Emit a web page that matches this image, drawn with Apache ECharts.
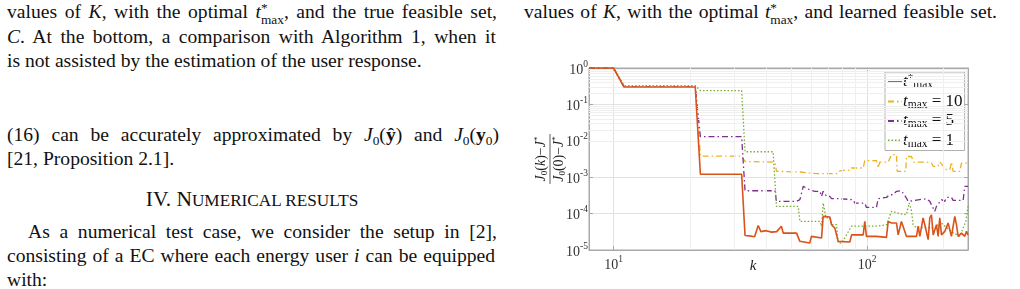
<!DOCTYPE html>
<html>
<head>
<meta charset="utf-8">
<script src="https://cdn.jsdelivr.net/npm/echarts@6/dist/echarts.min.js"></script>
<style>
html,body{margin:0;padding:0;background:#fff;}
body{width:1020px;height:289px;overflow:hidden;position:relative;font-family:"Liberation Serif","Times New Roman",serif;color:#111;}
.ln{position:absolute;font-size:19.6px;line-height:24px;white-space:nowrap;}
.m{font-style:italic;}
.ss{display:inline-block;vertical-align:-0.42em;font-size:0.68em;line-height:0.85;text-align:left;}
.ss span{display:block;}
sub{font-size:0.68em;vertical-align:-0.3em;line-height:0;}
.sc{font-size:0.8em;}
#chart{position:absolute;left:520px;top:55px;width:500px;height:234px;}
</style>
</head>
<body>
<div class="ln j" data-w="490" style="left:7px;top:0px;">values of <span class="m">K</span>, with the optimal <span class="m">t</span><span class="ss"><span>*</span><span>max</span></span>, and the true feasible set,</div>
<div class="ln j" data-w="489" style="left:7px;top:25px;"><span class="m">C</span>. At the bottom, a comparison with Algorithm 1, when it</div>
<div class="ln" style="left:7px;top:49px;">is not assisted by the estimation of the user response.</div>
<div class="ln j" data-w="492" style="left:7px;top:123px;">(16) can be accurately approximated by <span class="m">J</span><sub>0</sub>(<b>ŷ</b>) and <span class="m">J</span><sub>0</sub>(<b>y</b><sub>0</sub>)</div>
<div class="ln" style="left:7px;top:147px;">[21, Proposition 2.1].</div>
<div class="ln" style="left:102px;top:187px;width:300px;text-align:center;font-size:21.5px;">IV. N<span class="sc">UMERICAL RESULTS</span></div>
<div class="ln j" data-w="469" style="left:28px;top:220px;">As a numerical test case, we consider the setup in [2],</div>
<div class="ln j" data-w="488" style="left:7px;top:244px;">consisting of a EC where each energy user <span class="m">i</span> can be equipped</div>
<div class="ln" style="left:7px;top:268px;">with:</div>
<div class="ln j" data-w="473" style="left:524px;top:0px;">values of <span class="m">K</span>, with the optimal <span class="m">t</span><span class="ss"><span>*</span><span>max</span></span>, and learned feasible set.</div>
<div id="chart"></div>
<script>
// justify single lines by word spacing
document.querySelectorAll('.j').forEach(el => {
  const target = +el.dataset.w;
  const w = el.getBoundingClientRect().width;
  const spaces = (el.textContent.match(/ /g) || []).length;
  if (spaces > 0) el.style.wordSpacing = ((target - w) / spaces) + 'px';
});

// ---- data: [k, (J0(k)-J*)/(J0(0)-J*)] ----
const seriesNames = ['tstar', 't10', 't5', 't1'];
const xTicks = [10, 100];
const yTicks = [1e-5, 1e-4, 1e-3, 1e-2, 1e-1, 1];
const tStar = [[8,1],[10,1],[11,0.3],[21,0.3],[22,1.2e-3],[32,1.2e-3],[33,2.5e-5],[35,2.4e-5],[36,2.3e-5],[37.2,4.7e-5],[38.1,3.2e-5],[40,3.4e-5],[42,3.1e-5],[44,3.2e-5],[45.9,4.5e-5],[46.7,2.9e-5],[52.7,2.9e-5],[54.3,1.73e-5],[59.4,1.55e-5],[60.3,2.37e-5],[61.3,2.13e-5],[66.1,2.13e-5],[67.1,8.4e-5],[68.1,8.1e-5],[71.3,8.1e-5],[72.4,4.95e-5],[74.6,4.0e-5],[76.9,1.73e-5],[78,1.66e-5],[85.5,1.66e-5],[86.8,2.6e-5],[96.5,2.6e-5],[97.9,6.1e-5],[99.4,2.37e-5],[108.9,2.37e-5],[110.5,2.22e-5],[119.2,2.22e-5],[121.1,6.1e-5],[124.8,5.5e-5],[130.6,5.5e-5],[132.6,2.6e-5],[136.6,6.1e-5],[138.7,6.8e-5],[142.9,2.37e-5],[156.6,2.37e-5],[159,4.5e-5],[161.4,2.37e-5],[166.3,7.6e-5],[168.9,4.95e-5],[174.1,1.92e-5],[176.7,7.6e-5],[179.4,9.3e-5],[182.2,2.6e-5],[187.7,4.95e-5],[190.6,2.37e-5],[193.5,7.6e-5],[196.5,2.6e-5],[202.5,3.25e-5],[208.7,5.5e-5],[215.1,2.37e-5],[221.7,8.4e-5],[225.1,4.95e-5],[228.6,2.37e-5],[235.6,2.9e-5],[242.8,2.37e-5],[246.5,3.25e-5],[250,2.6e-5]];
const t10 = [[8,1],[10,1],[11,0.3],[21,0.3],[22,3.8e-3],[32,3.8e-3],[33,2.7e-3],[43.3,2.6e-3],[43.9,1.45e-3],[54.3,1.39e-3],[59.4,1.3e-3],[63.1,1.25e-3],[75.7,1.25e-3],[76.9,1.45e-3],[80.4,1.54e-3],[85.5,1.54e-3],[86.8,1.79e-3],[96.5,1.79e-3],[97.9,2.84e-3],[99.4,2.96e-3],[108.9,2.84e-3],[110.5,1.79e-3],[112.2,2.6e-3],[121.1,2.6e-3],[124.8,4.15e-3],[130.6,4.15e-3],[131.4,1.45e-3],[142.1,1.45e-3],[142.9,3.7e-3],[149.6,3.7e-3],[152.8,2.6e-3],[171.4,2.6e-3],[174.1,2.45e-3],[179.4,2.45e-3],[182.2,1.99e-3],[190.6,1.99e-3],[193.5,2.6e-3],[196.5,2.45e-3],[205.6,1.61e-3],[211.9,1.61e-3],[215.1,2.6e-3],[218.4,1.45e-3],[232,1.45e-3],[235.6,2.45e-3],[250,2.45e-3]];
const t5 = [[8,1],[10,1],[11,0.3],[21,0.3],[22,1.3e-2],[32,1.3e-2],[33,4.25e-4],[43.3,4.25e-4],[43.9,2.17e-4],[52.7,2.17e-4],[54.3,2.41e-4],[55.1,2.68e-4],[56,5.6e-4],[57.7,5e-4],[59.4,4.5e-4],[62.2,4.1e-4],[65.1,4.1e-4],[66.1,2.97e-4],[67.1,4.1e-4],[69.2,2.97e-4],[71.3,2.97e-4],[72.4,2.57e-4],[78,2.57e-4],[79.3,2.41e-4],[88.1,2.41e-4],[89.4,1.95e-4],[97.9,1.95e-4],[99.4,1.48e-4],[108.9,1.48e-4],[110.5,2.57e-4],[119.2,2.79e-4],[122.9,3.3e-4],[126.6,3.3e-4],[130.6,4.1e-4],[136.6,4.25e-4],[142.9,2.68e-4],[145.1,2.17e-4],[147.4,2.41e-4],[171.4,2.57e-4],[176.7,2.17e-4],[184.9,1.15e-4],[187.7,1.58e-4],[196.5,2.41e-4],[202.5,2.17e-4],[205.6,2.79e-4],[215.1,2.79e-4],[218.4,2.31e-4],[239.2,2.31e-4],[242.8,5.6e-4],[250,5.6e-4]];
const t1 = [[8,1],[10,1],[11,0.33],[21,0.33],[22,0.24],[32,0.24],[33,5e-3],[42.6,5e-3],[43.9,1.58e-4],[53.5,1.58e-4],[54.3,6.1e-5],[65.1,6.1e-5],[66.1,4.5e-5],[67.1,1.95e-4],[68.9,7.6e-5],[71.2,7.6e-5],[72.4,5e-5],[75.7,5e-5],[76.9,1.55e-5],[79.3,1.55e-5],[82.9,2.6e-5],[86.8,4.5e-5],[96.5,4.5e-5],[108.9,4.5e-5],[119.2,4.95e-5],[124.8,1.15e-4],[134.6,1e-4],[142.9,9.3e-5],[146.5,1.95e-4],[149.6,1.2e-4],[151.8,5e-5],[156.6,4.1e-5],[187.7,4.1e-5],[193.5,6e-5],[205,4.2e-5],[218.4,3e-5],[232,2.37e-5],[239.1,4e-5],[245,6e-5],[250,1.58e-4]];
const xMinorGrid = [20,30,40,50,60,70,80,90,200];
const yMinorGrid = [];
[1e-5,1e-4,1e-3,1e-2,1e-1].forEach(d => { for (let m = 2; m <= 9; m++) yMinorGrid.push(+(m*d).toPrecision(3)); });

const SERIF = '"Liberation Serif","Times New Roman",serif';
const chart = echarts.init(document.getElementById('chart'), null, {renderer:'canvas'});
function isTick(v, list){ return list.some(t => Math.abs(Math.log10(v) - Math.log10(t)) < 1e-6); }
const labRich = {
  b:{fontFamily:SERIF,fontSize:14,color:'#333',lineHeight:18,verticalAlign:'bottom'},
  s:{fontFamily:SERIF,fontSize:9.5,color:'#333',lineHeight:18,verticalAlign:'top'}
};
function fmt(list){ return v => isTick(v, list) ? '{b|10}{s|' + Math.round(Math.log10(v)) + '}' : ''; }
const axisCol = '#a8a8a8';
const legRich = {
  t:{fontFamily:SERIF,fontStyle:'italic',fontSize:17,color:'#111',lineHeight:18,verticalAlign:'middle'},
  sp:{fontFamily:SERIF,fontSize:11,color:'#111',lineHeight:18,verticalAlign:'top'},
  sb:{fontFamily:SERIF,fontSize:11.5,color:'#111',lineHeight:18,verticalAlign:'bottom'},
  r:{fontFamily:SERIF,fontSize:17,color:'#111',lineHeight:18,verticalAlign:'middle'}
};
const legText = {tstar:'{t|t}{sp|*}{sb|max}', t10:'{t|t}{sb|max}{r| = 10}', t5:'{t|t}{sb|max}{r| = 5}', t1:'{t|t}{sb|max}{r| = 1}'};
const colors = {tstar:'#D95319', t10:'#EDB120', t5:'#7E2F8E', t1:'#77AC30'};
const dash = {tstar:'solid', t10:[6,3,1.5,3], t5:[6,3,1.5,3], t1:[1.5,2]};
const dataMap = {tstar:tStar, t10:t10, t5:t5, t1:t1};
const z = {tstar:6, t10:4, t5:4, t1:5};

const series = seriesNames.map(n => ({
  name:n, type:'line', data:dataMap[n], symbol:'none', showSymbol:false, z:z[n],
  lineStyle:{color:colors[n], width: n==='tstar'?1.6:1.3, type:dash[n]},
  itemStyle:{color:colors[n]}, animation:false
}));
series.push({
  name:'grid', type:'line', data:[[8,1]], symbol:'none', lineStyle:{opacity:0}, z:1, animation:false, silent:true,
  markLine:{silent:true, symbol:'none', label:{show:false}, animation:false,
    lineStyle:{color:'#efefef', width:1, type:'solid'},
    data: xMinorGrid.map(v => ({xAxis:v})).concat(yMinorGrid.map(v => ({yAxis:v})))}
});

const xBase = {type:'log', logBase:10, min:8, max:250,
  axisLine:{show:true, lineStyle:{color:axisCol}}, axisTick:{show:true, inside:true, length:4, lineStyle:{color:axisCol}},
  splitLine:{show:false}};
const yBase = {type:'log', logBase:10, min:1e-5, max:1,
  axisLine:{show:true, lineStyle:{color:axisCol}}, axisTick:{show:true, inside:true, length:4, lineStyle:{color:axisCol}},
  splitLine:{show:false}};
const fracRich = {
  j:{fontFamily:SERIF,fontStyle:'italic',fontSize:14,fill:'#222'},
  n:{fontFamily:SERIF,fontSize:14,fill:'#222'},
  s:{fontFamily:SERIF,fontSize:9,fill:'#222',verticalAlign:'bottom',lineHeight:16},
  u:{fontFamily:SERIF,fontSize:9,fill:'#222',verticalAlign:'top',lineHeight:16}};

chart.setOption({
  animation:false,
  grid:{left:69, top:13, right:52, bottom:39, show:true, borderColor:axisCol, borderWidth:1, containLabel:false},
  xAxis:[
    Object.assign({}, xBase, {position:'bottom', splitLine:{show:true, lineStyle:{color:'#e2e2e2'}},
      axisLabel:{show:true, margin:4, formatter:fmt(xTicks), rich:labRich}}),
    Object.assign({}, xBase, {position:'top', axisLabel:{show:false}})
  ],
  yAxis:[
    Object.assign({}, yBase, {position:'left', splitLine:{show:true, lineStyle:{color:'#e2e2e2'}},
      axisLabel:{show:true, margin:1, formatter:fmt(yTicks), rich:labRich}}),
    Object.assign({}, yBase, {position:'right', axisLabel:{show:false}})
  ],
  legend:{
    data:seriesNames, orient:'vertical', left:365, top:17, itemWidth:14, itemHeight:10, itemGap:2,
    padding:[1,2,1,2], borderColor:'#b0b0b0', borderWidth:1, backgroundColor:'#fff',
    itemStyle:{opacity:0},
    formatter: n => legText[n], textStyle:{rich:legRich, padding:[0,0,0,-4]}, selectedMode:false
  },
  graphic:[
    {type:'group', x:30, y:104, rotation:Math.PI/2, children:[
      {type:'text', x:0, y:-9, style:{text:'{j|J}{s|0}{n|(}{j|k}{n|)−}{j|J}{u|*}', rich:fracRich, align:'center', verticalAlign:'middle'}},
      {type:'line', shape:{x1:-25, y1:0, x2:25, y2:0}, style:{stroke:'#333', lineWidth:0.8}},
      {type:'text', x:0, y:9, style:{text:'{j|J}{s|0}{n|(0)−}{j|J}{u|*}', rich:fracRich, align:'center', verticalAlign:'middle'}}
    ]},
    {type:'text', x:233, y:211, style:{text:'k', fontFamily:SERIF, fontStyle:'italic', fontSize:15, fill:'#222', align:'center', verticalAlign:'middle'}}
  ],
  series:series
});
</script>
</body>
</html>
